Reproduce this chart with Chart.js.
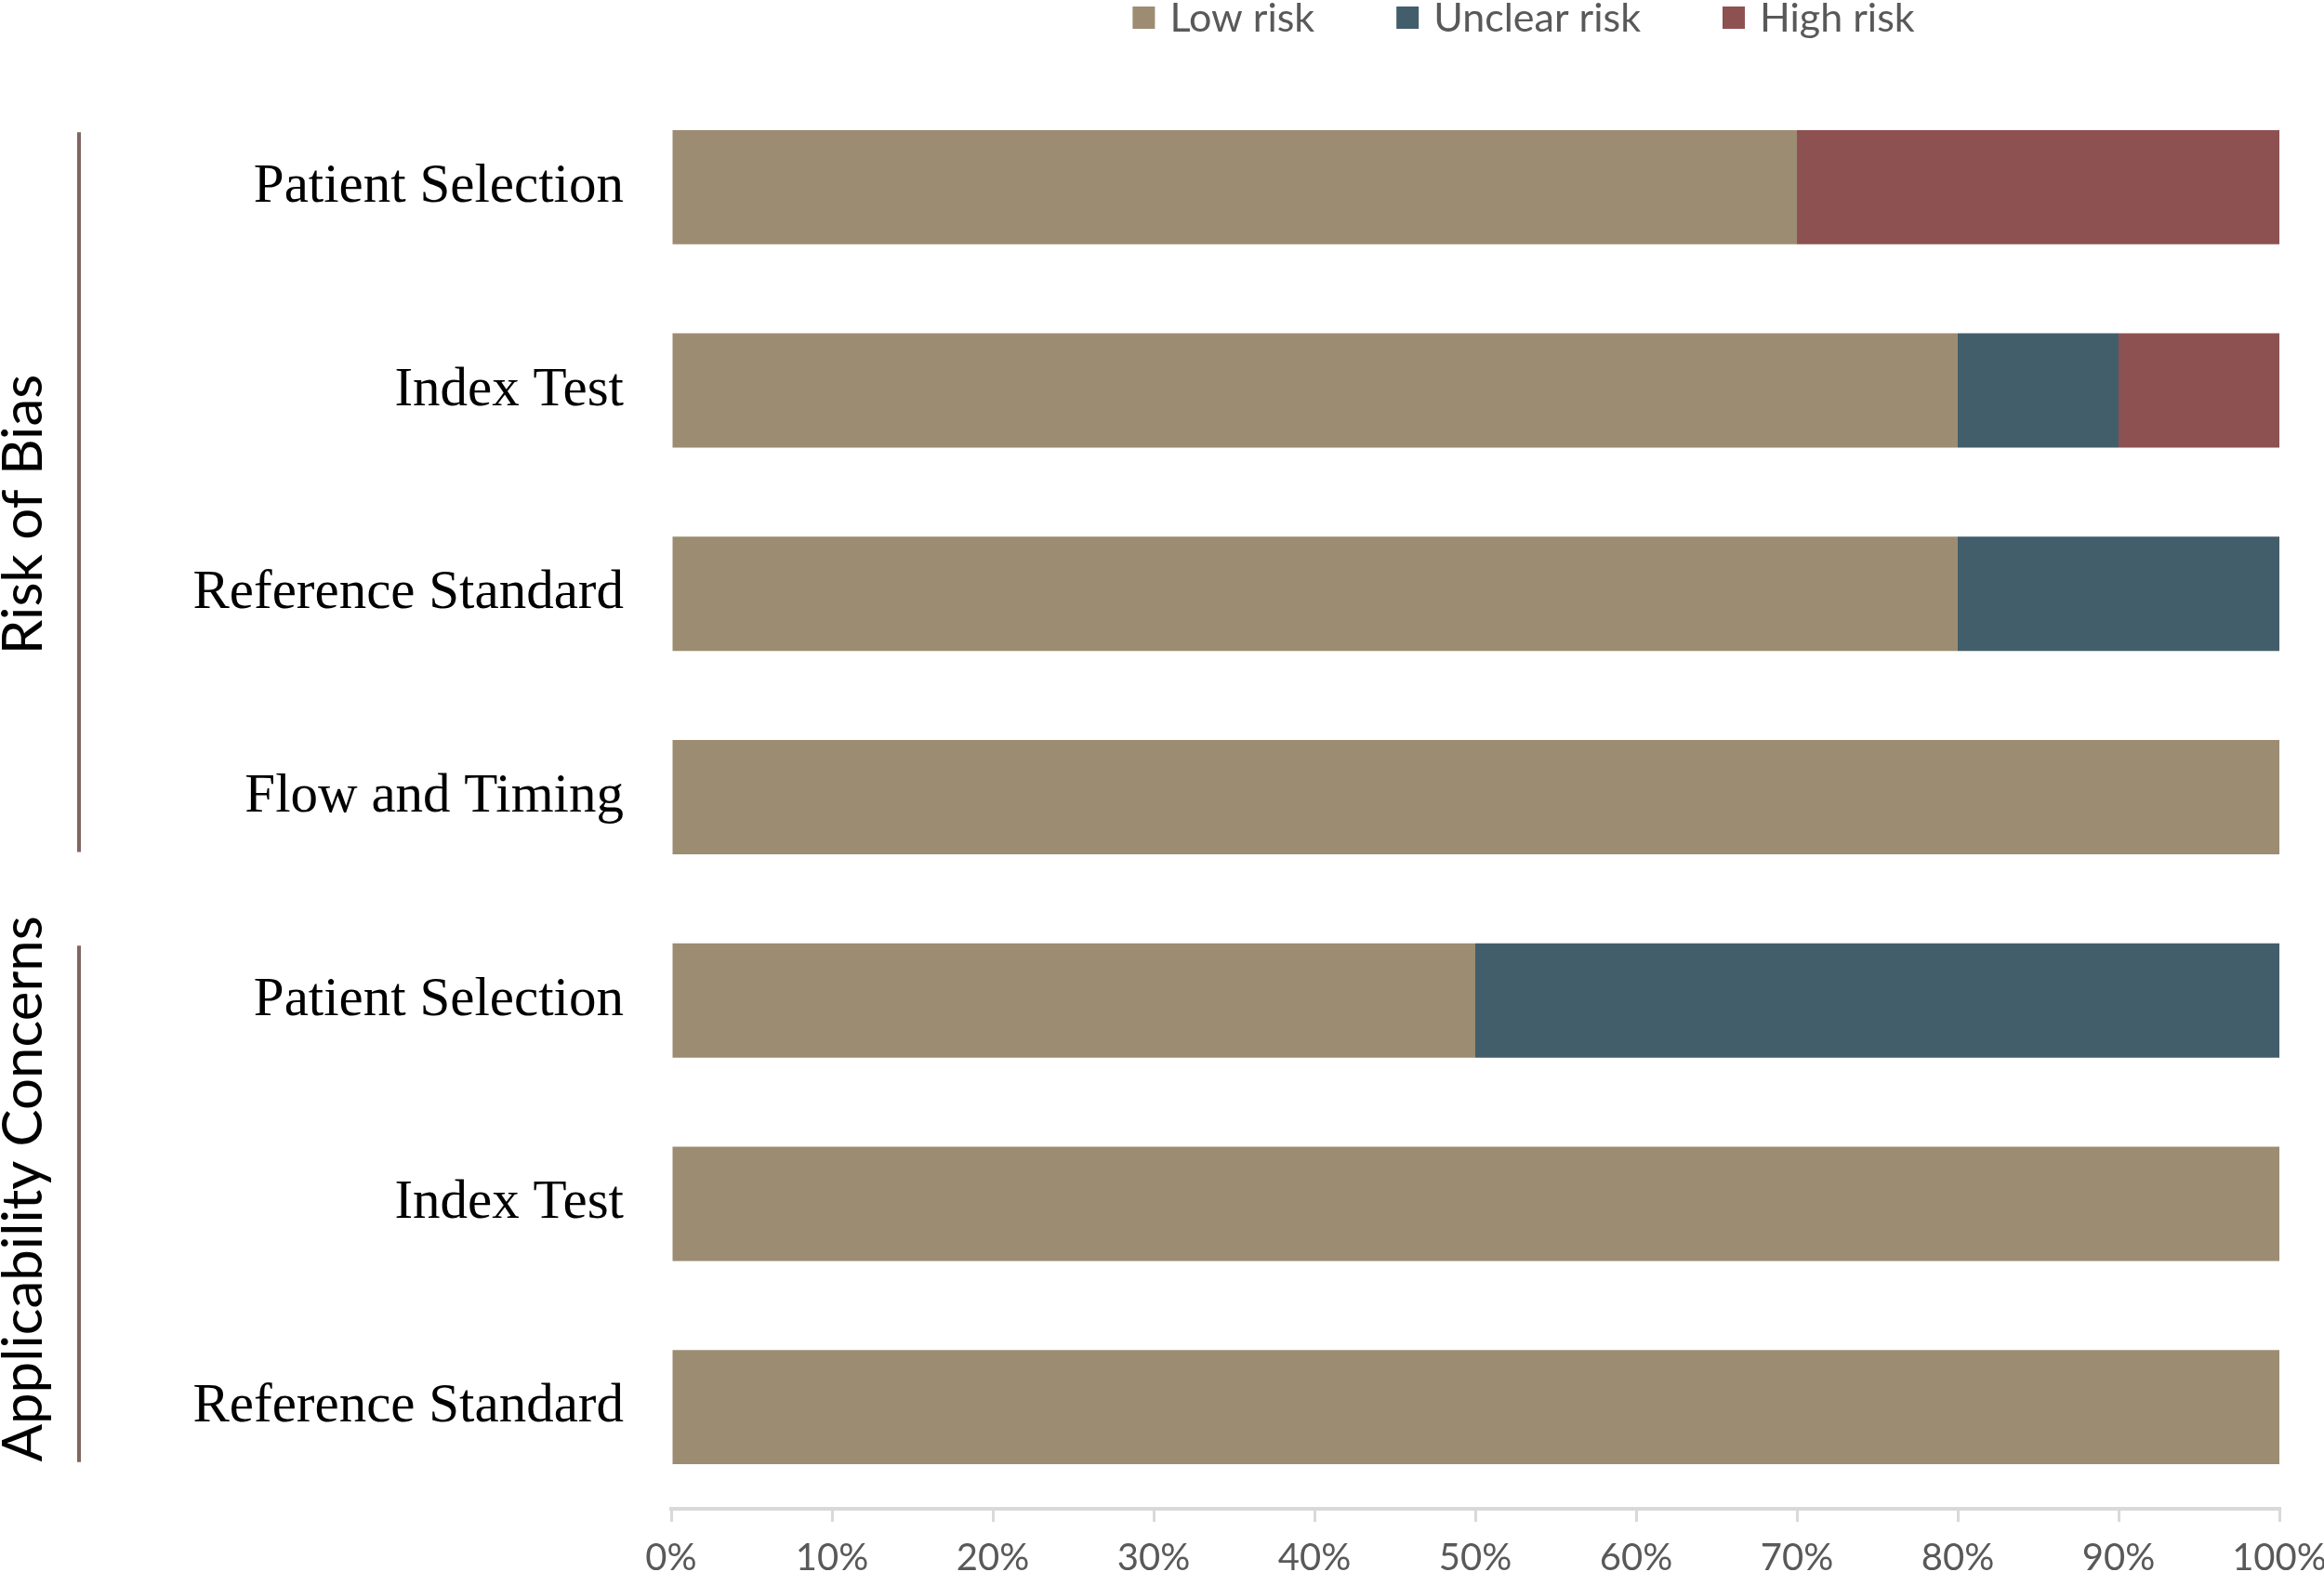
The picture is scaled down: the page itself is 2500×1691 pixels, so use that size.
<!DOCTYPE html>
<html>
<head>
<meta charset="utf-8">
<title>Risk of bias and applicability concerns</title>
<script src="https://cdn.jsdelivr.net/npm/chart.js@4.4.1/dist/chart.umd.min.js"></script>
<style>
  html, body { margin: 0; padding: 0; background: #fff; }
  #wrap { width: 2500px; height: 1691px; }
</style>
</head>
<body>
<div id="wrap"><canvas id="chart" width="2500" height="1691"></canvas></div>
<script>
// QUADAS-2 style summary: share of studies at low / unclear / high risk per domain.

const domains = [
  "Patient Selection", "Index Test", "Reference Standard", "Flow and Timing",
  "Patient Selection", "Index Test", "Reference Standard",
];
const lowRisk = [70, 80, 80, 100, 50, 100, 100];
const unclearRisk = [0, 10, 20, 0, 50, 0, 0];
const highRisk = [30, 10, 0, 0, 0, 0, 0];

// domain groups: label plus first/last row index
const groupLabels = ["Risk of Bias", "Applicability Concerns"];
const groupFirst = [0, 4];
const groupLast = [3, 6];
const groupLabelShift = [24, -16]; // the original names sit a little off-centre

const xTicks = [0, 10, 20, 30, 40, 50, 60, 70, 80, 90, 100];

const colors = { low: "#9C8C71", unclear: "#425E6B", high: "#8E5151", line: "#7F675F" };
const sans = "Lato, 'Open Sans', sans-serif";
const serif = "'Liberation Serif', serif";

// Group brackets and rotated group names on the left.
const groupPlugin = {
  id: "groups",
  afterDraw(chart) {
    const { ctx } = chart;
    const y = chart.scales.y;
    const half = (y.getPixelForValue(1) - y.getPixelForValue(0)) * 0.27;
    ctx.save();
    groupLabels.forEach((label, i) => {
      const top = y.getPixelForValue(groupFirst[i]) - half;
      const bottom = y.getPixelForValue(groupLast[i]) + half;
      ctx.strokeStyle = colors.line;
      ctx.lineWidth = 4;
      ctx.beginPath();
      ctx.moveTo(85, top);
      ctx.lineTo(85, bottom);
      ctx.stroke();

      ctx.translate(26, (top + bottom) / 2 + groupLabelShift[i]);
      ctx.rotate(-Math.PI / 2);
      ctx.fillStyle = "#000";
      ctx.font = `60px ${sans}`;
      ctx.textAlign = "center";
      ctx.textBaseline = "middle";
      ctx.fillText(label, 0, 0);
      ctx.setTransform(1, 0, 0, 1, 0, 0);
    });
    ctx.restore();
  },
};

// Legend drawn across the top, like the original.
const legendPlugin = {
  id: "topLegend",
  afterDraw(chart) {
    const { ctx, chartArea } = chart;
    const box = 24, gapText = 16, gapItem = 88;
    ctx.save();
    ctx.font = `43px ${sans}`;
    const items = chart.data.datasets.map((d) => ({ text: d.label, color: d.backgroundColor, w: ctx.measureText(d.label).width }));
    const total = items.reduce((s, it) => s + box + gapText + it.w, 0) + gapItem * (items.length - 1);
    let x = (chartArea.left + chartArea.right) / 2 + 52 - total / 2;
    const cy = 19;
    items.forEach((it) => {
      ctx.fillStyle = it.color;
      ctx.fillRect(x, cy - box / 2, box, box);
      ctx.fillStyle = "#595959";
      ctx.textBaseline = "middle";
      ctx.fillText(it.text, x + box + gapText, cy + 1);
      x += box + gapText + it.w + gapItem;
    });
    ctx.restore();
  },
};

new Chart(document.getElementById("chart"), {
  type: "bar",
  data: {
    labels: domains,
    datasets: [
      { label: "Low risk", data: lowRisk, backgroundColor: colors.low },
      { label: "Unclear risk", data: unclearRisk, backgroundColor: colors.unclear },
      { label: "High risk", data: highRisk, backgroundColor: colors.high },
    ],
  },
  options: {
    indexAxis: "y",
    responsive: false,
    animation: false,
    datasets: { bar: { barPercentage: 0.562, categoryPercentage: 1, borderWidth: 0 } },
    layout: { padding: { top: 92, right: 48, left: 0, bottom: 0 } },
    plugins: { legend: { display: false }, tooltip: { enabled: false } },
    scales: {
      x: {
        stacked: true,
        min: 0,
        max: 100,
        afterBuildTicks: (s) => { s.ticks = xTicks.map((v) => ({ value: v })); },
        afterFit: (s) => { s.height = 68; s.paddingLeft = 0; s.paddingRight = 0; },
        grid: { drawOnChartArea: false, drawTicks: true, tickLength: 14, color: "#D9D9D9", lineWidth: 3 },
        border: { display: true, color: "#D9D9D9", width: 4 },
        ticks: { color: "#595959", font: { family: sans, size: 40 }, padding: 15, maxRotation: 0, callback: (v) => `${v}%` },
      },
      y: {
        stacked: true,
        afterFit: (s) => { s.width = 722; s.paddingTop = 0; s.paddingBottom = 0; },
        grid: { display: false, drawTicks: false },
        border: { display: false },
        ticks: { color: "#000", font: { family: serif, size: 59 }, padding: 51 },
      },
    },
  },
  plugins: [groupPlugin, legendPlugin],
});
</script>
</body>
</html>
